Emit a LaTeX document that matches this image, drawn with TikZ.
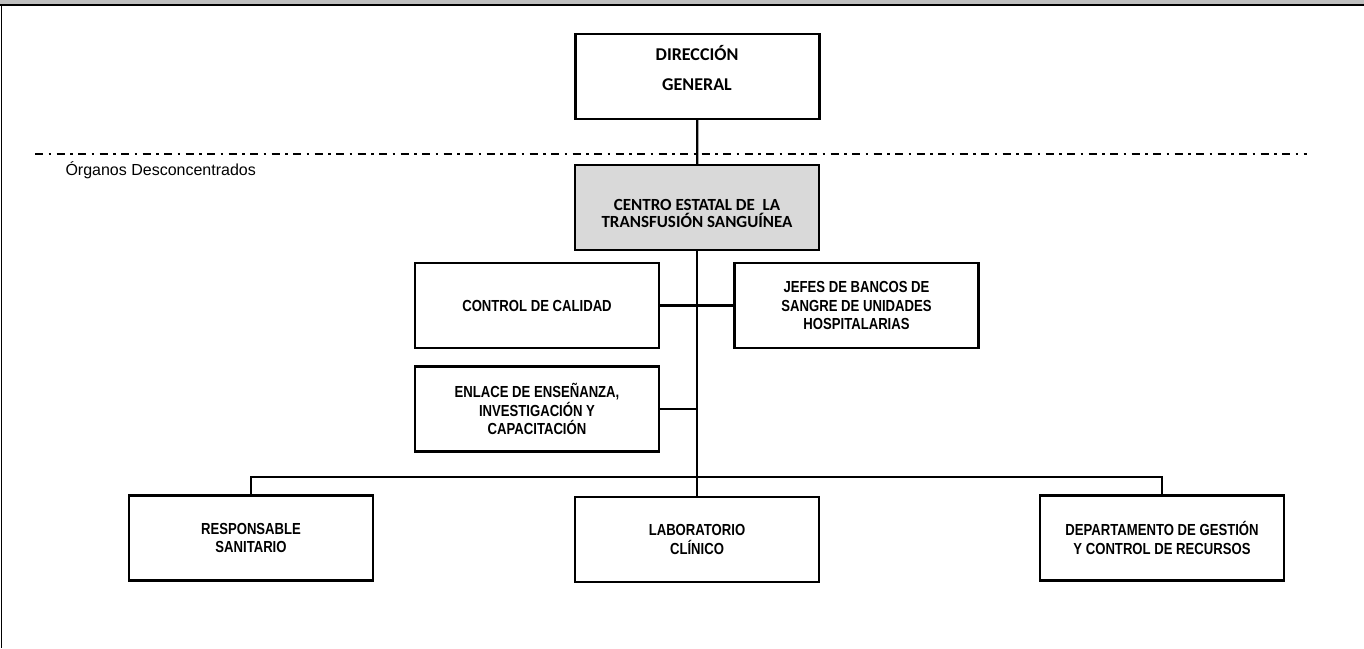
\documentclass[tikz,border=0pt]{standalone}
\usepackage{fontspec}
\setmainfont{Liberation Sans}
\newfontfamily\cajafont{Liberation Sans}[FakeStretch=0.82]
\newfontfamily\calfont{Carlito}
\usepackage{tikz}

\begin{document}
\begin{tikzpicture}[x=1pt,y=-1pt,
	caja/.style={draw,line width=2.2pt,minimum width=244pt,minimum height=85pt,inner sep=0pt,align=center,font=\cajafont\bfseries\fontsize{16}{18.5}\selectfont},
	linea/.style={line width=2.2pt}]
	\useasboundingbox (0,0) rectangle (1364,648);
	% marco de la pagina
	\fill[black!25] (0,0) rectangle (1364,5);
	\draw[line width=2pt] (0,5) -- (1364,5);
	\draw[line width=1.5pt] (1.5,5) -- (1.5,648);
	% cajas
	\node[caja] (dg) at (697.5,76.5){};
	\node[align=center,inner sep=0pt,font=\calfont\bfseries\fontsize{18}{30}\selectfont] (dgtxt) at (697,68){DIRECCIÓN\\GENERAL};
	\node[caja,fill=black!15] (centro) at (697,207.5){};
	\node[align=center,inner sep=0pt,font=\calfont\bfseries\fontsize{17}{17}\selectfont] (centrotxt) at (697,213){CENTRO ESTATAL DE \ LA\\TRANSFUSIÓN SANGUÍNEA};
	\node[caja] (control) at (537,305.5){CONTROL DE CALIDAD};
	\node[caja] (jefes) at (856.5,305.5){JEFES DE BANCOS DE\\SANGRE DE UNIDADES\\HOSPITALARIAS};
	\node[caja] (enlace) at (537,409){ENLACE DE ENSEÑANZA,\\INVESTIGACIÓN Y\\CAPACITACIÓN};
	\node[caja] (resp) at (251,538){RESPONSABLE\\SANITARIO};
	\node[caja] (lab) at (697,539.5){LABORATORIO\\CLÍNICO};
	\node[caja] (dept) at (1162,538){DEPARTAMENTO DE GESTIÓN\\Y CONTROL DE RECURSOS};
	% separador
	\coordinate (sepa) at (35,154);
	\coordinate (sepb) at (1307,154);
	\draw[line width=2.2pt,dash pattern=on 8pt off 5.5pt on 2.5pt off 5.5pt] (sepa) -- (sepb);
	\node[anchor=base west,font=\fontsize{16}{18}\selectfont] (organos) at (62,175){Órganos Desconcentrados};
	% conectores
	\coordinate (bus) at (697,477);
	\draw[linea] (dg) -- (centro);
	\draw[linea] (centro) -- (lab);
	\draw[linea] (control) -- (jefes);
	\draw[linea] (enlace.east) -- (centro.south |- enlace.east);
	\draw[linea] (resp.north) |- (bus) -| (dept.north);
\end{tikzpicture}
\end{document}
